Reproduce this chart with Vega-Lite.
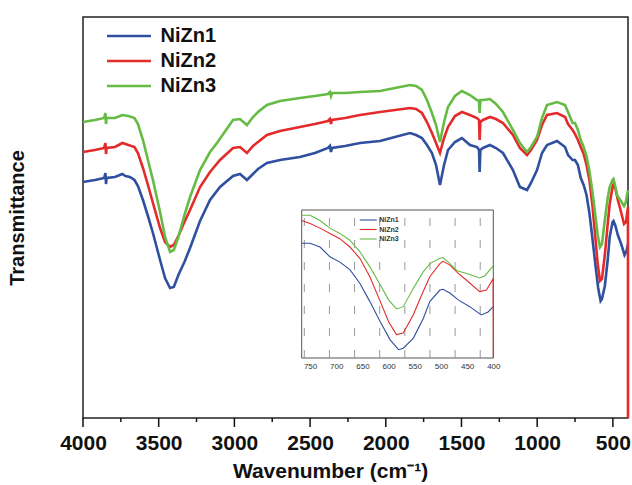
{
"$schema": "https://vega.github.io/schema/vega-lite/v6.json",
"width": 545, "height": 401,
"autosize": "none",
"padding": {"left": 83, "top": 17, "right": 4, "bottom": 67},
"config": {"view": {"stroke": "#222", "strokeWidth": 1.5}, "font": "Liberation Sans"},
"datasets": {
"grid": [{"w":761},{"w":713},{"w":665},{"w":617},{"w":569},{"w":521},{"w":473},{"w":425}],
"xt": [{"w":4000},{"w":3750},{"w":3500},{"w":3250},{"w":3000},{"w":2750},{"w":2500},{"w":2250},{"w":2000},{"w":1750},{"w":1500},{"w":1250},{"w":1000},{"w":750},{"w":500}],
"spec": [
{"s":"NiZn1","w":4000,"t":236},{"s":"NiZn1","w":3921,"t":238},{"s":"NiZn1","w":3860,"t":240},{"s":"NiZn1","w":3852,"t":245},{"s":"NiZn1","w":3848,"t":234},{"s":"NiZn1","w":3844,"t":240},{"s":"NiZn1","w":3789,"t":241},{"s":"NiZn1","w":3740,"t":244},{"s":"NiZn1","w":3720,"t":242},{"s":"NiZn1","w":3690,"t":241},{"s":"NiZn1","w":3660,"t":238},{"s":"NiZn1","w":3637,"t":232},{"s":"NiZn1","w":3604,"t":218},{"s":"NiZn1","w":3571,"t":202},{"s":"NiZn1","w":3538,"t":185},{"s":"NiZn1","w":3491,"t":158},{"s":"NiZn1","w":3458,"t":140},{"s":"NiZn1","w":3425,"t":130},{"s":"NiZn1","w":3400,"t":131},{"s":"NiZn1","w":3370,"t":143},{"s":"NiZn1","w":3330,"t":156},{"s":"NiZn1","w":3293,"t":170},{"s":"NiZn1","w":3227,"t":197},{"s":"NiZn1","w":3161,"t":218},{"s":"NiZn1","w":3095,"t":231},{"s":"NiZn1","w":3009,"t":242},{"s":"NiZn1","w":2963,"t":244},{"s":"NiZn1","w":2917,"t":238},{"s":"NiZn1","w":2877,"t":244},{"s":"NiZn1","w":2844,"t":249},{"s":"NiZn1","w":2785,"t":255},{"s":"NiZn1","w":2699,"t":258},{"s":"NiZn1","w":2567,"t":261},{"s":"NiZn1","w":2468,"t":265},{"s":"NiZn1","w":2382,"t":270},{"s":"NiZn1","w":2369,"t":272},{"s":"NiZn1","w":2362,"t":266},{"s":"NiZn1","w":2355,"t":270},{"s":"NiZn1","w":2269,"t":272},{"s":"NiZn1","w":2170,"t":275},{"s":"NiZn1","w":2038,"t":277},{"s":"NiZn1","w":1939,"t":281},{"s":"NiZn1","w":1840,"t":285},{"s":"NiZn1","w":1800,"t":283},{"s":"NiZn1","w":1761,"t":280},{"s":"NiZn1","w":1728,"t":273},{"s":"NiZn1","w":1695,"t":265},{"s":"NiZn1","w":1668,"t":253},{"s":"NiZn1","w":1642,"t":233},{"s":"NiZn1","w":1615,"t":253},{"s":"NiZn1","w":1589,"t":268},{"s":"NiZn1","w":1543,"t":276},{"s":"NiZn1","w":1497,"t":280},{"s":"NiZn1","w":1444,"t":273},{"s":"NiZn1","w":1398,"t":271},{"s":"NiZn1","w":1384,"t":268},{"s":"NiZn1","w":1380,"t":246},{"s":"NiZn1","w":1375,"t":268},{"s":"NiZn1","w":1358,"t":270},{"s":"NiZn1","w":1312,"t":273},{"s":"NiZn1","w":1272,"t":270},{"s":"NiZn1","w":1226,"t":265},{"s":"NiZn1","w":1160,"t":248},{"s":"NiZn1","w":1114,"t":231},{"s":"NiZn1","w":1067,"t":228},{"s":"NiZn1","w":1041,"t":235},{"s":"NiZn1","w":1001,"t":248},{"s":"NiZn1","w":968,"t":265},{"s":"NiZn1","w":935,"t":273},{"s":"NiZn1","w":869,"t":277},{"s":"NiZn1","w":816,"t":271},{"s":"NiZn1","w":796,"t":263},{"s":"NiZn1","w":766,"t":258},{"s":"NiZn1","w":750,"t":258},{"s":"NiZn1","w":731,"t":253},{"s":"NiZn1","w":712,"t":240},{"s":"NiZn1","w":693,"t":233},{"s":"NiZn1","w":674,"t":223},{"s":"NiZn1","w":655,"t":205},{"s":"NiZn1","w":636,"t":181},{"s":"NiZn1","w":616,"t":154},{"s":"NiZn1","w":597,"t":130},{"s":"NiZn1","w":581,"t":117},{"s":"NiZn1","w":572,"t":119},{"s":"NiZn1","w":553,"t":132},{"s":"NiZn1","w":534,"t":158},{"s":"NiZn1","w":521,"t":181},{"s":"NiZn1","w":502,"t":196},{"s":"NiZn1","w":496,"t":197},{"s":"NiZn1","w":483,"t":192},{"s":"NiZn1","w":467,"t":183},{"s":"NiZn1","w":445,"t":174},{"s":"NiZn1","w":423,"t":163},{"s":"NiZn1","w":410,"t":167},{"s":"NiZn1","w":400,"t":174},
{"s":"NiZn2","w":4000,"t":266},{"s":"NiZn2","w":3921,"t":268},{"s":"NiZn2","w":3860,"t":270},{"s":"NiZn2","w":3852,"t":275},{"s":"NiZn2","w":3848,"t":264},{"s":"NiZn2","w":3844,"t":270},{"s":"NiZn2","w":3789,"t":271},{"s":"NiZn2","w":3740,"t":275},{"s":"NiZn2","w":3700,"t":273},{"s":"NiZn2","w":3660,"t":271},{"s":"NiZn2","w":3637,"t":265},{"s":"NiZn2","w":3604,"t":250},{"s":"NiZn2","w":3571,"t":233},{"s":"NiZn2","w":3538,"t":215},{"s":"NiZn2","w":3491,"t":190},{"s":"NiZn2","w":3458,"t":176},{"s":"NiZn2","w":3425,"t":171},{"s":"NiZn2","w":3400,"t":173},{"s":"NiZn2","w":3370,"t":182},{"s":"NiZn2","w":3330,"t":196},{"s":"NiZn2","w":3293,"t":208},{"s":"NiZn2","w":3227,"t":231},{"s":"NiZn2","w":3161,"t":246},{"s":"NiZn2","w":3095,"t":258},{"s":"NiZn2","w":3009,"t":270},{"s":"NiZn2","w":2963,"t":271},{"s":"NiZn2","w":2917,"t":265},{"s":"NiZn2","w":2877,"t":272},{"s":"NiZn2","w":2844,"t":276},{"s":"NiZn2","w":2785,"t":283},{"s":"NiZn2","w":2699,"t":287},{"s":"NiZn2","w":2567,"t":291},{"s":"NiZn2","w":2468,"t":294},{"s":"NiZn2","w":2382,"t":297},{"s":"NiZn2","w":2369,"t":299},{"s":"NiZn2","w":2362,"t":294},{"s":"NiZn2","w":2355,"t":298},{"s":"NiZn2","w":2269,"t":300},{"s":"NiZn2","w":2170,"t":303},{"s":"NiZn2","w":2038,"t":306},{"s":"NiZn2","w":1939,"t":308},{"s":"NiZn2","w":1840,"t":310},{"s":"NiZn2","w":1800,"t":309},{"s":"NiZn2","w":1761,"t":305},{"s":"NiZn2","w":1728,"t":296},{"s":"NiZn2","w":1695,"t":285},{"s":"NiZn2","w":1668,"t":275},{"s":"NiZn2","w":1642,"t":265},{"s":"NiZn2","w":1615,"t":280},{"s":"NiZn2","w":1589,"t":291},{"s":"NiZn2","w":1543,"t":302},{"s":"NiZn2","w":1497,"t":306},{"s":"NiZn2","w":1444,"t":303},{"s":"NiZn2","w":1398,"t":300},{"s":"NiZn2","w":1384,"t":298},{"s":"NiZn2","w":1380,"t":278},{"s":"NiZn2","w":1375,"t":296},{"s":"NiZn2","w":1358,"t":298},{"s":"NiZn2","w":1312,"t":301},{"s":"NiZn2","w":1272,"t":299},{"s":"NiZn2","w":1226,"t":295},{"s":"NiZn2","w":1160,"t":283},{"s":"NiZn2","w":1114,"t":270},{"s":"NiZn2","w":1067,"t":263},{"s":"NiZn2","w":1041,"t":268},{"s":"NiZn2","w":1001,"t":278},{"s":"NiZn2","w":968,"t":293},{"s":"NiZn2","w":935,"t":303},{"s":"NiZn2","w":869,"t":305},{"s":"NiZn2","w":816,"t":301},{"s":"NiZn2","w":796,"t":294},{"s":"NiZn2","w":766,"t":288},{"s":"NiZn2","w":750,"t":284},{"s":"NiZn2","w":731,"t":278},{"s":"NiZn2","w":712,"t":271},{"s":"NiZn2","w":693,"t":264},{"s":"NiZn2","w":674,"t":253},{"s":"NiZn2","w":655,"t":238},{"s":"NiZn2","w":636,"t":214},{"s":"NiZn2","w":616,"t":181},{"s":"NiZn2","w":600,"t":154},{"s":"NiZn2","w":585,"t":137},{"s":"NiZn2","w":572,"t":139},{"s":"NiZn2","w":553,"t":163},{"s":"NiZn2","w":534,"t":194},{"s":"NiZn2","w":521,"t":214},{"s":"NiZn2","w":502,"t":231},{"s":"NiZn2","w":496,"t":234},{"s":"NiZn2","w":483,"t":229},{"s":"NiZn2","w":467,"t":218},{"s":"NiZn2","w":451,"t":209},{"s":"NiZn2","w":426,"t":194},{"s":"NiZn2","w":413,"t":196},{"s":"NiZn2","w":400.3,"t":211},{"s":"NiZn2","w":400,"t":0},
{"s":"NiZn3","w":4000,"t":296},{"s":"NiZn3","w":3921,"t":298},{"s":"NiZn3","w":3860,"t":300},{"s":"NiZn3","w":3852,"t":305},{"s":"NiZn3","w":3848,"t":294},{"s":"NiZn3","w":3844,"t":300},{"s":"NiZn3","w":3789,"t":300},{"s":"NiZn3","w":3740,"t":303},{"s":"NiZn3","w":3700,"t":302},{"s":"NiZn3","w":3660,"t":300},{"s":"NiZn3","w":3637,"t":294},{"s":"NiZn3","w":3604,"t":278},{"s":"NiZn3","w":3571,"t":258},{"s":"NiZn3","w":3538,"t":238},{"s":"NiZn3","w":3491,"t":206},{"s":"NiZn3","w":3458,"t":181},{"s":"NiZn3","w":3425,"t":166},{"s":"NiZn3","w":3400,"t":168},{"s":"NiZn3","w":3370,"t":181},{"s":"NiZn3","w":3330,"t":203},{"s":"NiZn3","w":3293,"t":221},{"s":"NiZn3","w":3227,"t":248},{"s":"NiZn3","w":3161,"t":266},{"s":"NiZn3","w":3115,"t":275},{"s":"NiZn3","w":3009,"t":298},{"s":"NiZn3","w":2963,"t":299},{"s":"NiZn3","w":2917,"t":293},{"s":"NiZn3","w":2877,"t":301},{"s":"NiZn3","w":2844,"t":306},{"s":"NiZn3","w":2785,"t":313},{"s":"NiZn3","w":2699,"t":317},{"s":"NiZn3","w":2567,"t":320},{"s":"NiZn3","w":2468,"t":322},{"s":"NiZn3","w":2382,"t":324},{"s":"NiZn3","w":2369,"t":326},{"s":"NiZn3","w":2362,"t":322},{"s":"NiZn3","w":2355,"t":325},{"s":"NiZn3","w":2269,"t":325},{"s":"NiZn3","w":2170,"t":326},{"s":"NiZn3","w":2038,"t":327},{"s":"NiZn3","w":1939,"t":330},{"s":"NiZn3","w":1840,"t":333},{"s":"NiZn3","w":1800,"t":332},{"s":"NiZn3","w":1761,"t":328},{"s":"NiZn3","w":1728,"t":318},{"s":"NiZn3","w":1695,"t":305},{"s":"NiZn3","w":1668,"t":293},{"s":"NiZn3","w":1642,"t":276},{"s":"NiZn3","w":1615,"t":296},{"s":"NiZn3","w":1589,"t":311},{"s":"NiZn3","w":1543,"t":322},{"s":"NiZn3","w":1497,"t":327},{"s":"NiZn3","w":1444,"t":323},{"s":"NiZn3","w":1398,"t":318},{"s":"NiZn3","w":1384,"t":317},{"s":"NiZn3","w":1380,"t":305},{"s":"NiZn3","w":1375,"t":318},{"s":"NiZn3","w":1358,"t":318},{"s":"NiZn3","w":1312,"t":319},{"s":"NiZn3","w":1272,"t":314},{"s":"NiZn3","w":1226,"t":306},{"s":"NiZn3","w":1160,"t":288},{"s":"NiZn3","w":1114,"t":275},{"s":"NiZn3","w":1067,"t":266},{"s":"NiZn3","w":1041,"t":271},{"s":"NiZn3","w":1001,"t":281},{"s":"NiZn3","w":968,"t":300},{"s":"NiZn3","w":935,"t":313},{"s":"NiZn3","w":869,"t":316},{"s":"NiZn3","w":816,"t":313},{"s":"NiZn3","w":796,"t":306},{"s":"NiZn3","w":766,"t":295},{"s":"NiZn3","w":750,"t":295},{"s":"NiZn3","w":731,"t":288},{"s":"NiZn3","w":712,"t":278},{"s":"NiZn3","w":693,"t":271},{"s":"NiZn3","w":674,"t":262},{"s":"NiZn3","w":655,"t":247},{"s":"NiZn3","w":636,"t":227},{"s":"NiZn3","w":616,"t":203},{"s":"NiZn3","w":600,"t":183},{"s":"NiZn3","w":585,"t":171},{"s":"NiZn3","w":572,"t":174},{"s":"NiZn3","w":553,"t":198},{"s":"NiZn3","w":534,"t":220},{"s":"NiZn3","w":521,"t":231},{"s":"NiZn3","w":502,"t":238},{"s":"NiZn3","w":496,"t":239},{"s":"NiZn3","w":483,"t":231},{"s":"NiZn3","w":470,"t":222},{"s":"NiZn3","w":451,"t":218},{"s":"NiZn3","w":426,"t":212},{"s":"NiZn3","w":416,"t":215},{"s":"NiZn3","w":400,"t":228}
]},
"layer": [
{"layer": [
 {"data": {"name": "spec"},
  "mark": {"type": "line", "strokeWidth": 2.6},
  "encoding": {
   "x": {"field": "w", "type": "quantitative",
    "scale": {"domain": [400, 4000], "reverse": true, "nice": false, "zero": false},
    "axis": {"values": [4000,3500,3000,2500,2000,1500,1000,500], "format": "d", "labelFlush": false,
     "ticks": false, "domain": false, "grid": false, "labelFontSize": 21, "labelFontWeight": "bold", "labelColor": "#111",
     "labelPadding": 14, "title": "Wavenumber (cm⁻¹)", "titleFontSize": 21, "titleFontWeight": "bold", "titleColor": "#111",
     "titlePadding": 7, "titleX": 247}},
   "y": {"field": "t", "type": "quantitative",
    "scale": {"domain": [0, 401], "nice": false, "zero": false},
    "axis": {"title": "Transmittance", "labels": false, "ticks": false, "domain": false, "grid": false,
     "titleFontSize": 20, "titleFontWeight": "bold", "titleColor": "#111", "titlePadding": 56}},
   "color": {"field": "s", "type": "nominal",
    "scale": {"domain": ["NiZn1", "NiZn2", "NiZn3"], "range": ["#2f4f9f", "#e32b2b", "#66bb44"]},
    "legend": {"title": null, "orient": "none", "legendX": 36, "legendY": 9,
     "symbolType": "M-4,0H4", "symbolSize": 121, "symbolStrokeWidth": 2.6,
     "labelFontSize": 20, "labelFontWeight": "bold", "labelColor": "#111",
     "labelOffset": 21.5, "rowPadding": 5, "padding": 0}}
  }},
 {"data": {"name": "xt"},
  "transform": [{"filter": "datum.w % 500 === 0"}],
  "mark": {"type": "rule", "stroke": "#111", "strokeWidth": 1.5},
  "encoding": {
   "x": {"field": "w", "type": "quantitative",
    "axis": {"values": [4000,3500,3000,2500,2000,1500,1000,500], "format": "d", "labelFlush": false,
     "ticks": false, "domain": false, "grid": false, "labelFontSize": 21, "labelFontWeight": "bold", "labelColor": "#111",
     "labelPadding": 14, "title": "Wavenumber (cm⁻¹)", "titleFontSize": 21, "titleFontWeight": "bold", "titleColor": "#111",
     "titlePadding": 7, "titleX": 247}},
   "y": {"datum": 0, "type": "quantitative",
    "axis": {"title": "Transmittance", "labels": false, "ticks": false, "domain": false, "grid": false,
     "titleFontSize": 20, "titleFontWeight": "bold", "titleColor": "#111", "titlePadding": 56}},
   "y2": {"datum": -9}
  }},
 {"data": {"name": "xt"},
  "transform": [{"filter": "datum.w % 500 !== 0"}],
  "mark": {"type": "rule", "stroke": "#111", "strokeWidth": 1.5},
  "encoding": {
   "x": {"field": "w", "type": "quantitative",
    "axis": {"values": [4000,3500,3000,2500,2000,1500,1000,500], "format": "d", "labelFlush": false,
     "ticks": false, "domain": false, "grid": false, "labelFontSize": 21, "labelFontWeight": "bold", "labelColor": "#111",
     "labelPadding": 14, "title": "Wavenumber (cm⁻¹)", "titleFontSize": 21, "titleFontWeight": "bold", "titleColor": "#111",
     "titlePadding": 7, "titleX": 247}},
   "y": {"datum": 0, "type": "quantitative",
    "axis": {"title": "Transmittance", "labels": false, "ticks": false, "domain": false, "grid": false,
     "titleFontSize": 20, "titleFontWeight": "bold", "titleColor": "#111", "titlePadding": 56}},
   "y2": {"datum": -4}
  }}
]},
{"layer": [
 {"data": {"values": [{}]},
  "mark": {"type": "rect", "fill": "white", "stroke": "#555", "strokeWidth": 1},
  "encoding": {
   "x": {"datum": 766, "type": "quantitative",
    "scale": {"domain": [400, 766], "range": [410.3, 218.7], "nice": false, "zero": false},
    "axis": {"orient": "bottom", "offset": -60, "values": [750,700,650,600,550,500,450,400], "format": "d",
     "domain": false, "ticks": false, "grid": false, "labelFontSize": 8, "labelColor": "#333",
     "labelPadding": 4, "labelFlush": false, "title": null}},
   "x2": {"datum": 400},
   "y": {"datum": 106, "type": "quantitative",
    "scale": {"domain": [106, 302], "range": [341, 193], "nice": false, "zero": false, "clamp": true}, "axis": null},
   "y2": {"datum": 302}
  }},
 {"data": {"name": "grid"},
  "mark": {"type": "rule", "stroke": "#999", "strokeWidth": 1, "strokeDash": [8, 14]},
  "encoding": {
   "x": {"field": "w", "type": "quantitative",
    "axis": {"orient": "bottom", "offset": -60, "values": [750,700,650,600,550,500,450,400], "format": "d",
     "domain": false, "ticks": false, "grid": false, "labelFontSize": 8, "labelColor": "#333",
     "labelPadding": 4, "labelFlush": false, "title": null}},
   "y": {"datum": 106, "type": "quantitative", "axis": null},
   "y2": {"datum": 302}
  }},
 {"data": {"name": "spec"},
  "transform": [{"filter": "datum.w <= 766"}],
  "mark": {"type": "line", "strokeWidth": 1.1},
  "encoding": {
   "x": {"field": "w", "type": "quantitative",
    "axis": {"orient": "bottom", "offset": -60, "values": [750,700,650,600,550,500,450,400], "format": "d",
     "domain": false, "ticks": false, "grid": false, "labelFontSize": 8, "labelColor": "#333",
     "labelPadding": 4, "labelFlush": false, "title": null}},
   "y": {"field": "t", "type": "quantitative", "axis": null},
   "color": {"field": "s", "type": "nominal",
    "scale": {"domain": ["NiZn1", "NiZn2", "NiZn3"], "range": ["#2f4f9f", "#e32b2b", "#66bb44"]},
    "legend": {"title": null, "orient": "none", "legendX": 281.7, "legendY": 199.5,
     "symbolType": "M-3,0H3", "symbolSize": 32, "symbolStrokeWidth": 1.1,
     "labelFontSize": 7, "labelFontWeight": "bold", "labelColor": "#333",
     "labelOffset": 7.6, "rowPadding": 1.5, "padding": 0}}
  }}
]}
],
"resolve": {"scale": {"x": "independent", "y": "independent", "color": "independent"}}
}
